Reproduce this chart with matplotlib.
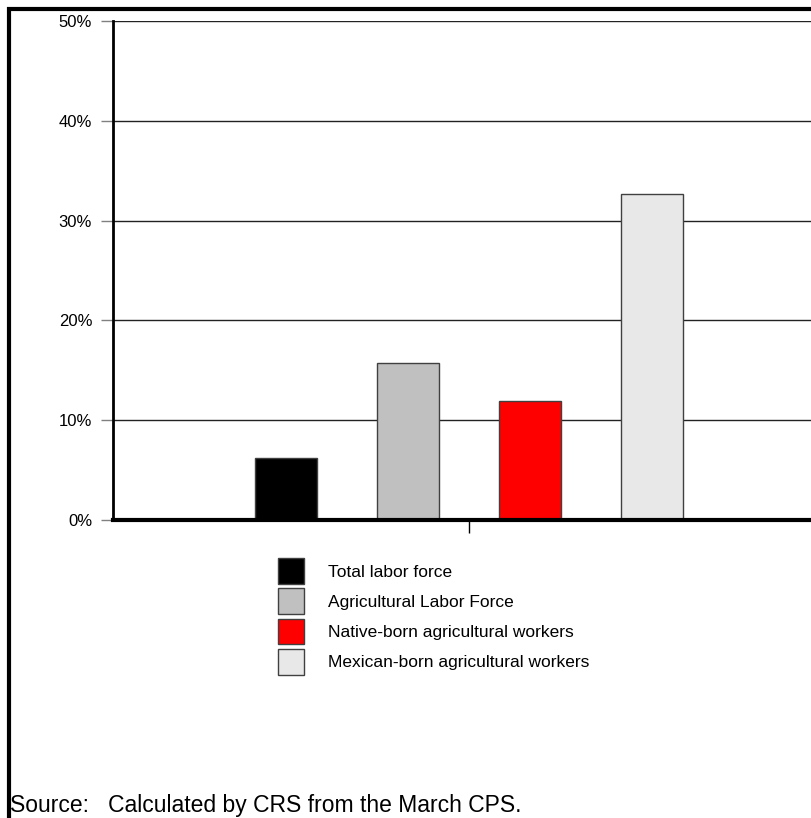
import matplotlib
matplotlib.use('Agg')
import matplotlib.pyplot as plt
from matplotlib.patches import Rectangle, Patch

plt.rcParams['font.family'] = ['Liberation Sans', 'DejaVu Sans']

# data
series = ['Total labor force', 'Agricultural Labor Force',
          'Native-born agricultural workers', 'Mexican-born agricultural workers']
values = [6.2, 15.7, 11.9, 32.7]
colors = ['#000000', '#c0c0c0', '#ff0000', '#e8e8e8']
yticks = [0, 10, 20, 30, 40, 50]
source = 'Source:   Calculated by CRS from the March CPS.'

W, H = 811, 818
fig = plt.figure(figsize=(W / 100, H / 100), dpi=100)

# outer frame, running off right and bottom edges
fig.patches.append(Rectangle((8.5 / W, -0.1), 1.2, 1 - 9.5 / H + 0.1,
                             transform=fig.transFigure, fill=False,
                             ec='k', lw=3, clip_on=False))

ax = fig.add_axes([113 / W, 1 - 520 / H, 712 / W, 499 / H])
offsets = [-0.75, -0.25, 0.25, 0.75]
for off, v, c, lab in zip(offsets, values, colors, series):
	ax.bar(off, v, width=0.254, color=c, edgecolor='#404040', lw=1, label=lab, zorder=3)

ax.set_xlim(-1.46, 1.46)
ax.set_ylim(0, 50)
ax.set_yticks(yticks)
ax.set_yticklabels(['%d%%' % t for t in yticks], fontsize=12)
ax.set_xticks([0])
ax.set_xticklabels([''])
ax.tick_params(axis='y', length=9, width=1, color='#808080', pad=6)
ax.tick_params(axis='x', length=9, width=1, color='k')
for t in yticks[1:]:
	ax.axhline(t, color='#222222', lw=1, zorder=1)
for s in ['top', 'right']:
	ax.spines[s].set_visible(False)
ax.spines['left'].set_linewidth(2)
ax.spines['bottom'].set_linewidth(3)
ax.spines['bottom'].set_zorder(4)

handles = [Patch(facecolor=c, edgecolor='#404040', lw=1) for c in colors]
fig.legend(handles, series, loc='upper left', bbox_to_anchor=(278 / W, 1 - 558 / H),
           frameon=False, fontsize=12.5, borderpad=0, borderaxespad=0,
           handlelength=1.5, handleheight=1.92, labelspacing=0.25, handletextpad=1.38)

fig.text(10 / W, 1 - 812 / H, source, fontsize=16.5, va='baseline', ha='left')

fig.savefig('out.png', dpi=100)
